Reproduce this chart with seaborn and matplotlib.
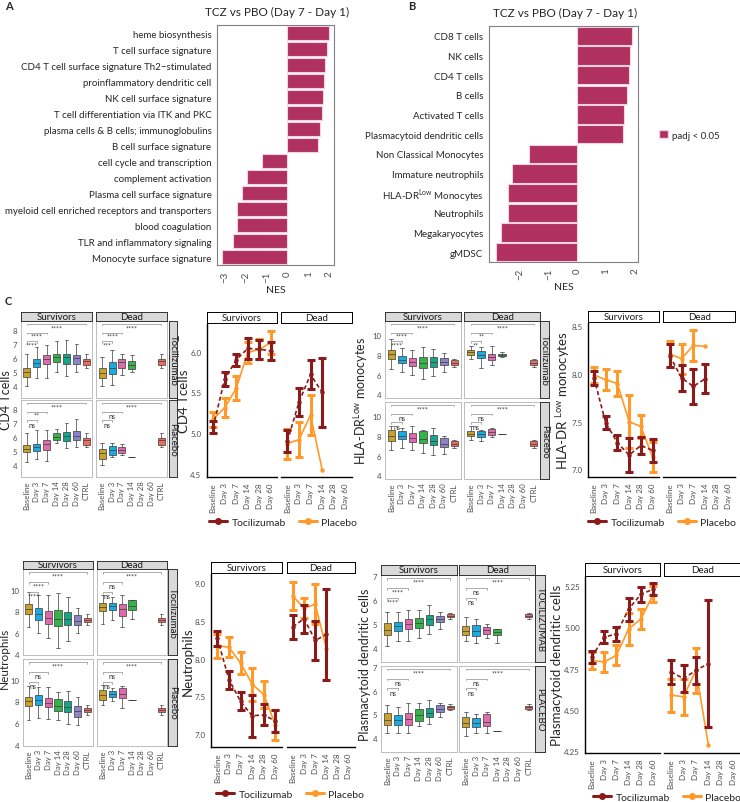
import numpy as np
import pandas as pd
import seaborn as sns
import matplotlib.pyplot as plt
from matplotlib.lines import Line2D
from matplotlib.patches import Patch

sns.set_theme(style='white')
plt.rcParams['font.family'] = ['Lato', 'DejaVu Sans']
plt.rcParams['mathtext.fontset'] = 'custom'
plt.rcParams['mathtext.rm'] = 'Lato'

# ---------------- data ----------------
pathways_a = ['heme biosynthesis', 'T cell surface signature',
              'CD4 T cell surface signature Th2\u2212stimulated',
              'proinflammatory dendritic cell', 'NK cell surface signature',
              'T cell differentiation via ITK and PKC',
              'plasma cells & B cells; immunoglobulins', 'B cell surface signature',
              'cell cycle and transcription', 'complement activation',
              'Plasma cell surface signature',
              'myeloid cell enriched receptors and transporters',
              'blood coagulation', 'TLR and inflammatory signaling',
              'Monocyte surface signature']
nes_a = [1.99, 1.91, 1.83, 1.78, 1.70, 1.65, 1.55, 1.46,
         -1.24, -1.96, -2.21, -2.41, -2.45, -2.60, -3.17]

cells_b = ['CD8 T cells', 'NK cells', 'CD4 T cells', 'B cells', 'Activated T cells',
           'Plasmacytoid dendritic cells', 'Non Classical Monocytes',
           'Immature neutrophils', r'HLA-DR$^{\mathrm{Low}}$ Monocytes', 'Neutrophils',
           'Megakaryocytes', 'gMDSC']
nes_b = [1.91, 1.84, 1.81, 1.74, 1.64, 1.59, -1.67, -2.26, -2.42, -2.43, -2.66, -2.82]

days = ['Baseline', 'Day 3', 'Day 7', 'Day 14', 'Day 28', 'Day 60', 'CTRL']
line_days = days[:6]
day_colors = ['#C9A22E', '#1AABE0', '#E06AAE', '#35B34A', '#17A58A', '#8C84C6', '#EE6A5E']

# box summaries per day: [lower whisker, q1, median, q3, upper whisker]
cd4_toci_surv = [[4.0, 4.65, 5.0, 5.3, 6.3], [4.6, 5.35, 5.65, 5.95, 6.8], [4.6, 5.55, 5.9, 6.2, 6.9],
                 [5.0, 5.7, 6.05, 6.3, 7.2], [4.7, 5.55, 6.05, 6.25, 7.3], [5.0, 5.6, 6.0, 6.2, 7.0],
                 [5.3, 5.5, 5.75, 5.95, 6.3]]
cd4_toci_dead = [[4.0, 4.6, 4.95, 5.3, 6.1], [4.1, 4.85, 5.3, 5.7, 6.6], [4.8, 5.25, 5.7, 5.95, 6.3],
                 [5.0, 5.2, 5.5, 5.75, 6.2], [], [], [5.3, 5.5, 5.75, 5.95, 6.3]]
cd4_plac_surv = [[4.2, 4.9, 5.15, 5.4, 6.3], [4.4, 4.97, 5.3, 5.52, 6.5], [4.3, 5.04, 5.5, 5.76, 6.5],
                 [5.6, 5.76, 6.0, 6.3, 6.6], [5.2, 5.7, 6.05, 6.35, 7.0], [5.3, 5.76, 6.1, 6.45, 7.3],
                 [5.3, 5.45, 5.75, 5.93, 6.3]]
cd4_plac_dead = [[4.0, 4.45, 4.85, 5.16, 5.6], [4.6, 4.75, 5.05, 5.35, 5.6], [4.7, 4.85, 5.1, 5.3, 5.5],
                 [4.6], [], [], [5.3, 5.45, 5.75, 5.93, 6.3]]

hla_toci_surv = [[6.6, 7.6, 8.05, 8.5, 9.6], [6.3, 7.15, 7.5, 7.9, 8.7], [6.0, 6.9, 7.25, 7.7, 8.5],
                 [5.5, 6.7, 7.2, 7.8, 8.8], [5.9, 6.8, 7.25, 7.8, 8.6], [6.3, 6.95, 7.3, 7.7, 8.2],
                 [6.8, 7.0, 7.15, 7.45, 7.6]]
hla_toci_dead = [[7.6, 8.0, 8.25, 8.5, 8.9], [6.7, 7.7, 8.0, 8.35, 8.8], [7.0, 7.5, 7.8, 8.1, 8.9],
                 [7.8, 7.9, 8.0, 8.05, 8.3], [], [], [6.8, 7.0, 7.15, 7.45, 7.6]]
hla_plac_surv = [[6.6, 7.5, 7.95, 8.6, 9.0], [6.8, 7.65, 8.0, 8.45, 8.8], [6.6, 7.4, 7.8, 8.3, 9.0],
                 [6.3, 7.25, 7.7, 8.5, 8.6], [6.1, 7.1, 7.45, 8.1, 8.8], [6.2, 6.9, 7.2, 7.75, 8.0],
                 [6.8, 7.0, 7.15, 7.45, 7.6]]
hla_plac_dead = [[7.6, 7.95, 8.2, 8.45, 9.0], [7.5, 7.85, 8.2, 8.5, 8.6], [7.9, 8.1, 8.35, 8.65, 8.8],
                 [8.2], [], [], [6.8, 7.0, 7.15, 7.45, 7.6]]

neut_toci_surv = [[6.5, 7.7, 8.2, 8.7, 9.8], [6.0, 7.2, 7.7, 8.3, 9.5], [5.5, 6.8, 7.4, 8.0, 9.5],
                  [4.6, 6.6, 7.3, 8.1, 9.7], [5.2, 6.7, 7.3, 7.9, 9.3], [6.0, 6.7, 7.1, 7.6, 8.3],
                  [6.7, 7.0, 7.2, 7.4, 7.7]]
neut_toci_dead = [[6.8, 8.0, 8.4, 8.8, 9.5], [7.2, 8.1, 8.5, 8.8, 9.3], [6.5, 7.5, 8.2, 8.7, 9.5],
                  [7.3, 8.1, 8.5, 9.0, 9.0], [], [], [6.7, 7.0, 7.2, 7.4, 7.7]]
neut_plac_surv = [[6.3, 7.6, 8.0, 8.4, 9.4], [6.5, 7.7, 8.1, 8.6, 9.3], [6.4, 7.5, 7.9, 8.3, 9.3],
                  [6.3, 7.1, 7.6, 8.2, 8.9], [5.9, 7.0, 7.5, 8.0, 9.0], [5.8, 6.6, 7.1, 7.6, 8.4],
                  [6.7, 7.0, 7.2, 7.4, 7.7]]
neut_plac_dead = [[7.7, 8.1, 8.6, 9.1, 9.5], [8.0, 8.4, 8.7, 9.0, 9.2], [7.4, 8.3, 8.7, 9.2, 9.4],
                  [8.15], [], [], [6.7, 7.0, 7.2, 7.4, 7.7]]

pdc_toci_surv = [[4.1, 4.53, 4.75, 5.03, 5.5], [4.3, 4.7, 4.92, 5.1, 5.5], [4.3, 4.79, 5.0, 5.21, 5.6],
                 [4.4, 4.85, 5.05, 5.24, 5.6], [4.6, 4.96, 5.2, 5.38, 5.8], [4.8, 5.08, 5.22, 5.35, 5.5],
                 [5.2, 5.28, 5.33, 5.42, 5.45]]
pdc_toci_dead = [[4.3, 4.53, 4.7, 4.93, 5.3], [4.2, 4.5, 4.72, 4.97, 5.2], [4.4, 4.6, 4.75, 4.88, 5.0],
                 [4.2, 4.53, 4.65, 4.8, 4.8], [], [], [5.2, 5.28, 5.33, 5.42, 5.45]]
pdc_plac_surv = [[4.2, 4.55, 4.78, 5.04, 5.4], [4.2, 4.55, 4.78, 4.97, 5.3], [4.2, 4.55, 4.8, 5.04, 5.5],
                 [4.5, 4.73, 4.98, 5.21, 5.5], [4.6, 4.9, 5.05, 5.28, 5.6], [4.9, 5.11, 5.22, 5.39, 5.5],
                 [5.2, 5.22, 5.33, 5.36, 5.45]]
pdc_plac_dead = [[4.1, 4.45, 4.62, 4.9, 5.1], [4.2, 4.45, 4.62, 4.83, 5.0], [4.2, 4.5, 4.7, 5.0, 5.1],
                 [4.3], [], [], [5.2, 5.22, 5.33, 5.36, 5.45]]

# significance labels: Baseline vs CTRL, vs Day 7, vs Day 3
cd4_sig = [['****', '****', '****'], ['****', '****', '***'], ['****', '**', 'ns'], ['****', 'ns', 'ns']]
hla_sig = [['****', '****', '****'], ['****', '**', '**'], ['****', 'ns', 'ns'], ['****', 'ns', 'ns']]
neut_sig = [['****', '****', '****'], ['****', 'ns', 'ns'], ['****', 'ns', 'ns'], ['****', 'ns', 'ns']]
pdc_sig = [['****', '****', '****'], ['****', 'ns', 'ns'], ['****', 'ns', 'ns'], ['****', 'ns', 'ns']]
sig_pairs = [(0, 6), (0, 2), (0, 1)]

# group means and error half-widths
cd4_toci_surv_m = [5.07, 5.66, 5.90, 6.04, 6.03, 6.01]
cd4_toci_surv_e = [0.075, 0.085, 0.075, 0.125, 0.115, 0.11]
cd4_plac_surv_m = [5.17, 5.31, 5.55, 5.99, 6.03, 6.11]
cd4_plac_surv_e = [0.09, 0.115, 0.145, 0.125, 0.125, 0.14]
cd4_toci_dead_m = [4.90, 5.38, 5.72, 5.50, np.nan, np.nan]
cd4_toci_dead_e = [0.135, 0.175, 0.175, 0.42, np.nan, np.nan]
cd4_plac_dead_m = [4.87, 4.92, 5.22, 4.55, np.nan, np.nan]
cd4_plac_dead_e = [0.185, 0.22, 0.25, np.nan, np.nan, np.nan]

hla_toci_surv_m = [7.96, 7.49, 7.28, 7.15, 7.25, 7.20]
hla_toci_surv_e = [0.075, 0.07, 0.08, 0.18, 0.09, 0.12]
hla_plac_surv_m = [7.99, 7.94, 7.90, 7.50, 7.45, 7.13]
hla_plac_surv_e = [0.08, 0.11, 0.13, 0.28, 0.12, 0.16]
hla_toci_dead_m = [8.19, 7.96, 7.87, 7.95, np.nan, np.nan]
hla_toci_dead_e = [0.12, 0.135, 0.185, 0.15, np.nan, np.nan]
hla_plac_dead_m = [8.21, 8.16, 8.30, 8.29, np.nan, np.nan]
hla_plac_dead_e = [0.14, 0.155, 0.16, np.nan, np.nan, np.nan]

neut_toci_surv_m = [8.27, 7.72, 7.43, 7.24, 7.25, 7.17]
neut_toci_surv_e = [0.10, 0.12, 0.12, 0.28, 0.14, 0.15]
neut_plac_surv_m = [8.17, 8.15, 7.94, 7.66, 7.52, 7.12]
neut_plac_surv_e = [0.16, 0.13, 0.145, 0.22, 0.18, 0.20]
neut_toci_dead_m = [8.42, 8.53, 8.24, 8.32, np.nan, np.nan]
neut_toci_dead_e = [0.155, 0.185, 0.265, 0.60, np.nan, np.nan]
neut_plac_dead_m = [8.83, 8.67, 8.72, 8.13, np.nan, np.nan]
neut_plac_dead_e = [0.19, 0.13, 0.265, np.nan, np.nan, np.nan]

pdc_toci_surv_m = [4.82, 4.94, 4.96, 5.11, 5.20, 5.23]
pdc_toci_surv_e = [0.035, 0.035, 0.04, 0.07, 0.045, 0.035]
pdc_plac_surv_m = [4.80, 4.79, 4.83, 4.99, 5.05, 5.20]
pdc_plac_surv_e = [0.05, 0.06, 0.06, 0.095, 0.06, 0.05]
pdc_toci_dead_m = [4.73, 4.69, 4.74, 4.78, np.nan, np.nan]
pdc_toci_dead_e = [0.075, 0.08, 0.08, 0.385, np.nan, np.nan]
pdc_plac_dead_m = [4.59, 4.58, 4.74, 4.29, np.nan, np.nan]
pdc_plac_dead_e = [0.10, 0.11, 0.135, np.nan, np.nan, np.nan]

BAR = '#B03060'
TOCI = '#8B1A1A'
PLAC = '#FF9A2A'
TICK = '#4D4D4D'

W, H = 740, 803
fig = plt.figure(figsize=(7.4, 8.03), dpi=100)


def rect(x0, y0, x1, y1):
    return [x0 / W, 1 - y1 / H, (x1 - x0) / W, (y1 - y0) / H]


def ftext(x, y, s, **kw):
    fig.text(x / W, 1 - y / H, s, **kw)


def strip(x0, y0, x1, y1, text, rotation=0, fill='#D9D9D9', edge='#333333'):
    s = fig.add_axes(rect(x0, y0, x1, y1))
    s.set_xticks([])
    s.set_yticks([])
    s.set_facecolor(fill)
    for sp in s.spines.values():
        sp.set_color(edge)
        sp.set_linewidth(0.7)
    s.text(0.5, 0.5, text, ha='center', va='center', rotation=rotation,
           fontsize=7, color='#1A1A1A', transform=s.transAxes)


# ---------------- A ----------------
ax = fig.add_axes(rect(217, 26, 334, 266))
sns.barplot(x=nes_a, y=pathways_a, orient='h', color=BAR, saturation=1,
            edgecolor='#F4D3DE', linewidth=0.8, width=0.92, ax=ax)
ax.set_xlim(-3.39, 2.24)
ax.set_xticks([-3, -2, -1, 0, 1, 2])
ax.set_xticklabels(['\u22123', '\u22122', '\u22121', '0', '1', '2'], rotation=90)
ax.set_xlabel('NES', fontsize=7.5, labelpad=2)
ax.set_ylabel('')
ax.tick_params(axis='both', length=2, width=0.6, color='#333333', labelsize=7, pad=2)
ax.tick_params(axis='x', labelcolor=TICK)
for sp in ax.spines.values():
    sp.set_color('#808080')
    sp.set_linewidth(0.8)
ftext(5, 7, 'A', fontsize=8, fontweight='bold', va='center')
ftext(277, 12, 'TCZ vs PBO (Day 7 - Day 1)', fontsize=8.5, ha='center', va='center')

# ---------------- B ----------------
ax = fig.add_axes(rect(489, 27, 638, 263))
sns.barplot(x=nes_b, y=cells_b, orient='h', color=BAR, saturation=1,
            edgecolor='#F4D3DE', linewidth=0.8, width=0.92, ax=ax)
ax.set_xlim(-3.08, 2.12)
ax.set_xticks([-2, -1, 0, 1, 2])
ax.set_xticklabels(['\u22122', '\u22121', '0', '1', '2'], rotation=90)
ax.set_xlabel('NES', fontsize=7.5, labelpad=2)
ax.set_ylabel('')
ax.tick_params(axis='both', length=2, width=0.6, color='#333333', labelsize=7, pad=2)
ax.tick_params(axis='x', labelcolor=TICK)
for sp in ax.spines.values():
    sp.set_color('#808080')
    sp.set_linewidth(0.8)
ftext(408, 7, 'B', fontsize=8, fontweight='bold', va='center')
ftext(565, 13, 'TCZ vs PBO (Day 7 - Day 1)', fontsize=8.5, ha='center', va='center')
fig.legend(handles=[Patch(facecolor=BAR, edgecolor='#F4D3DE')], labels=['padj < 0.05'],
           loc='center left', bbox_to_anchor=(650 / W, 1 - 136 / H), frameon=False,
           fontsize=7, handlelength=0.9, handleheight=0.9, handletextpad=0.5)

ftext(5, 302, 'C', fontsize=8, fontweight='bold', va='center')


# ---------------- box blocks ----------------
def draw_box_panel(ax, summary, ylim, yticks, show_y, show_x, labels):
    rows = [(d, v) for d, vals in zip(days, summary) for v in vals]
    df = pd.DataFrame(rows, columns=['day', 'value'])
    sns.boxplot(data=df, x='day', y='value', order=days, hue='day', hue_order=days,
                palette=day_colors, saturation=1, whis=(0, 100), width=0.72,
                linewidth=0.5, linecolor='#3A3A3A', fliersize=0, legend=False, ax=ax)
    ax.set_xlim(-0.6, 6.6)
    ax.set_ylim(*ylim)
    ax.set_yticks(yticks)
    ax.set_xlabel('')
    ax.set_ylabel('')
    for sp in ax.spines.values():
        sp.set_color('#BDBDBD')
        sp.set_linewidth(0.7)
    ax.tick_params(axis='both', length=1.5, width=0.5, color='#333333', labelsize=5.6,
                   labelcolor=TICK, pad=1)
    if show_y:
        ax.set_yticklabels([f'{t:g}' for t in yticks])
    else:
        ax.tick_params(axis='y', left=False, labelleft=False)
    if show_x:
        ax.set_xticks(range(len(days)))
        ax.set_xticklabels(days, rotation=90)
    else:
        ax.tick_params(axis='x', bottom=False, labelbottom=False)
    tr = ax.get_xaxis_transform()
    for (i, j), h, lab in zip(sig_pairs, [0.965, 0.85, 0.735], labels):
        ax.plot([i, i, j, j], [h - 0.02, h, h, h - 0.02], color='#8C8C8C', lw=0.5, transform=tr)
        ax.text((i + j) / 2, h - 0.005, lab, ha='center', va='top', fontsize=5,
                color='#333333', transform=tr)


def box_block(cols, strip_y, rows, right_x, ylim, yticks, data, sigs, ylabel, ylabel_x,
              arms=('Tocilizumab', 'Placebo'), label_size=9):
    k = 0
    for r, (ry0, ry1) in enumerate(rows):
        for c, (cx0, cx1) in enumerate(cols):
            ax = fig.add_axes(rect(cx0, ry0, cx1, ry1))
            draw_box_panel(ax, data[k], ylim, yticks, c == 0, r == 1, sigs[k])
            k += 1
        strip(right_x[0], ry0, right_x[1], ry1, arms[r], rotation=270)
    for (cx0, cx1), name in zip(cols, ['Survivors', 'Dead']):
        strip(cx0, strip_y[0], cx1, strip_y[1], name)
    ftext(ylabel_x, (rows[0][0] + rows[1][1]) / 2, ylabel, rotation=90, ha='center',
          va='center', fontsize=label_size)


box_block([(20.7, 92.3), (96.3, 167.3)], (313, 322), [(322, 399), (401, 478)], (169, 177),
          (3.15, 8.63), [4, 5, 6, 7, 8],
          [cd4_toci_surv, cd4_toci_dead, cd4_plac_surv, cd4_plac_dead], cd4_sig,
          'CD4 Tcells', 6)
box_block([(385, 460.7), (464.3, 540)], (313, 322), [(322, 399), (403, 480)], (540, 549.3),
          (3.63, 11.4), [4, 6, 8, 10],
          [hla_toci_surv, hla_toci_dead, hla_plac_surv, hla_plac_dead], hla_sig,
          r'HLA-DR$^{\mathrm{Low}}$ monocytes', 361)
box_block([(22.7, 93.3), (96.7, 167.3)], (561.7, 570), [(570, 656), (660, 746.7)], (168.3, 176.7),
          (3.9, 11.93), [4, 6, 8, 10],
          [neut_toci_surv, neut_toci_dead, neut_plac_surv, neut_plac_dead], neut_sig,
          'Neutrophils', 4, label_size=8.5)
box_block([(381, 456.7), (459.3, 535)], (566, 576), [(576, 662.7), (666.7, 752.7)], (535, 545),
          (3.43, 7.05), [4, 5, 6, 7],
          [pdc_toci_surv, pdc_toci_dead, pdc_plac_surv, pdc_plac_dead], pdc_sig,
          'Plasmacytoid dendritic cells', 365, arms=('TOCILIZUMAB', 'PLACEBO'))


# ---------------- mean line blocks ----------------
def draw_means(ax, mean, err, color, ls):
    x = np.arange(len(line_days))
    ax.errorbar(x, mean, yerr=err, fmt='none', ecolor=color, elinewidth=2.2,
                capsize=2.6, capthick=2.2)
    ax.plot(x, mean, color=color, ls=ls, lw=1.2, marker='o', ms=2.2)


def line_block(cols, strip_y, panel_y, ylim, yticks, fmt, series, ylabel, ylabel_x, legend_xy):
    for c, (cx0, cx1) in enumerate(cols):
        ax = fig.add_axes(rect(cx0, panel_y[0], cx1, panel_y[1]))
        ax.set_facecolor('none')
        pm, pe, tm, te = series[c]
        draw_means(ax, pm, pe, PLAC, '-')
        draw_means(ax, tm, te, TOCI, (0, (2.5, 1.6)))
        ax.set_xlim(-0.55, 5.55)
        ax.set_ylim(*ylim)
        ax.set_xticks(range(len(line_days)))
        ax.set_xticklabels(line_days, rotation=90)
        ax.set_yticks(yticks)
        ax.set_yticklabels([fmt.format(t) for t in yticks])
        ax.tick_params(axis='both', length=2.5, width=0.6, color='#333333', labelsize=5.8,
                       labelcolor=TICK, pad=1.2)
        for side in ['top', 'right']:
            ax.spines[side].set_visible(False)
        ax.spines['bottom'].set_color('black')
        ax.spines['bottom'].set_linewidth(1.0)
        if c == 0:
            ax.spines['left'].set_color('black')
            ax.spines['left'].set_linewidth(1.0)
        else:
            ax.spines['left'].set_visible(False)
            ax.tick_params(axis='y', left=False, labelleft=False)
        ax.grid(False)
    for (cx0, cx1), name in zip(cols, ['Survivors', 'Dead']):
        strip(cx0, strip_y[0], cx1, strip_y[1], name, fill='white', edge='black')
    ftext(ylabel_x, (panel_y[0] + panel_y[1]) / 2, ylabel, rotation=90, ha='center',
          va='center', fontsize=9.5)
    handles = [Line2D([], [], color=TOCI, lw=2.2, marker='o', ms=4),
               Line2D([], [], color=PLAC, lw=2.2, marker='o', ms=4)]
    fig.legend(handles, ['Tocilizumab', 'Placebo'], loc='center',
               bbox_to_anchor=(legend_xy[0] / W, 1 - legend_xy[1] / H), ncol=2,
               frameon=False, fontsize=7.5, handlelength=1.8, columnspacing=1.2,
               handletextpad=0.4)


line_block([(206.7, 277.3), (281, 351.7)], (313.3, 324.3), (325, 478), (4.46, 6.34),
           [4.5, 5.0, 5.5, 6.0], '{:.1f}',
           [(cd4_plac_surv_m, cd4_plac_surv_e, cd4_toci_surv_m, cd4_toci_surv_e),
            (cd4_plac_dead_m, cd4_plac_dead_e, cd4_toci_dead_m, cd4_toci_dead_e)],
           'CD4 Tcells', 184, (283, 523))
line_block([(587.5, 659), (663.3, 735)], (312.3, 323.3), (324, 478), (6.92, 8.535),
           [7.0, 7.5, 8.0, 8.5], '{:.1f}',
           [(hla_plac_surv_m, hla_plac_surv_e, hla_toci_surv_m, hla_toci_surv_e),
            (hla_plac_dead_m, hla_plac_dead_e, hla_toci_dead_m, hla_toci_dead_e)],
           r'HLA-DR$^{\mathrm{\ Low}}$ monocytes', 563, (662, 523))
line_block([(211, 281.7), (286.7, 355)], (562.7, 574), (574.5, 748.3), (6.82, 9.13),
           [7.0, 7.5, 8.0, 8.5, 9.0], '{:.1f}',
           [(neut_plac_surv_m, neut_plac_surv_e, neut_toci_surv_m, neut_toci_surv_e),
            (neut_plac_dead_m, neut_plac_dead_e, neut_toci_dead_m, neut_toci_dead_e)],
           'Neutrophils', 188, (290, 795))
line_block([(585, 660), (664.3, 740)], (564.3, 576.7), (577, 754), (4.24, 5.31),
           [4.25, 4.5, 4.75, 5.0, 5.25], '{:.2f}',
           [(pdc_plac_surv_m, pdc_plac_surv_e, pdc_toci_surv_m, pdc_toci_surv_e),
            (pdc_plac_dead_m, pdc_plac_dead_e, pdc_toci_dead_m, pdc_toci_dead_e)],
           'Plasmacytoid dendritic cells', 557, (667, 798))

fig.savefig('out.png', dpi=100)
